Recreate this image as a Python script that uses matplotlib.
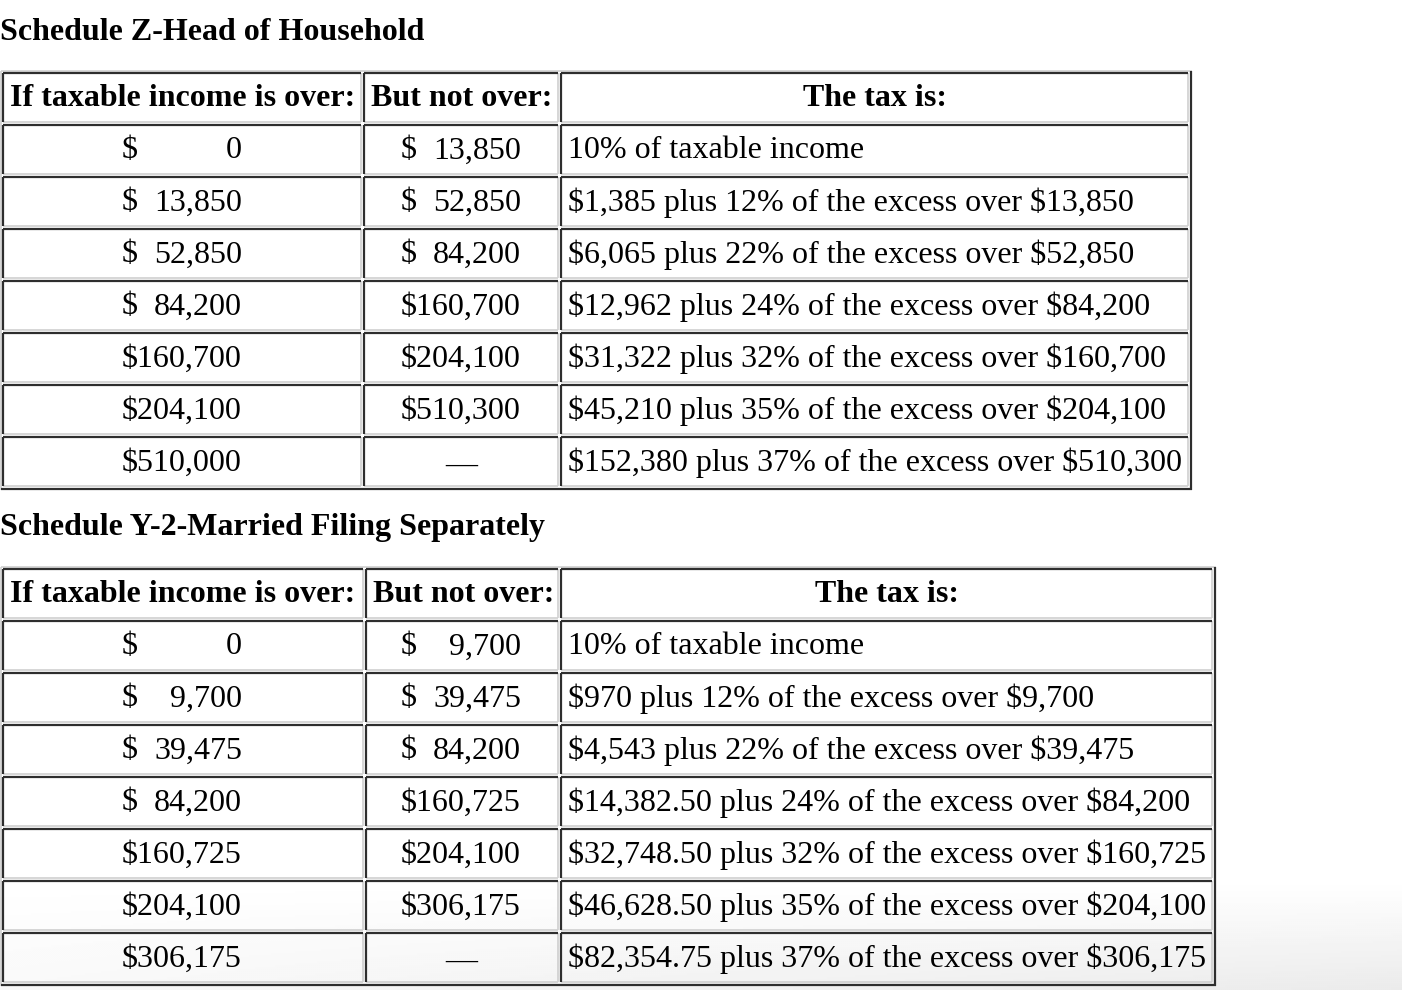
import matplotlib
matplotlib.use("Agg")
import numpy as np
import matplotlib.pyplot as plt
from matplotlib.lines import Line2D

plt.rcParams["text.parse_math"] = False

# Schedule Z - Head of Household
z_over = ["0", "13,850", "52,850", "84,200", "160,700", "204,100", "510,000"]
z_not_over = ["13,850", "52,850", "84,200", "160,700", "204,100", "510,300", None]
z_tax = ["10% of taxable income",
         "$1,385 plus 12% of the excess over $13,850",
         "$6,065 plus 22% of the excess over $52,850",
         "$12,962 plus 24% of the excess over $84,200",
         "$31,322 plus 32% of the excess over $160,700",
         "$45,210 plus 35% of the excess over $204,100",
         "$152,380 plus 37% of the excess over $510,300"]

# Schedule Y-2 - Married Filing Separately
y_over = ["0", "9,700", "39,475", "84,200", "160,725", "204,100", "306,175"]
y_not_over = ["9,700", "39,475", "84,200", "160,725", "204,100", "306,175", None]
y_tax = ["10% of taxable income",
         "$970 plus 12% of the excess over $9,700",
         "$4,543 plus 22% of the excess over $39,475",
         "$14,382.50 plus 24% of the excess over $84,200",
         "$32,748.50 plus 32% of the excess over $160,725",
         "$46,628.50 plus 35% of the excess over $204,100",
         "$82,354.75 plus 37% of the excess over $306,175"]

headers = ["If taxable income is over:", "But not over:", "The tax is:"]

W, H = 1402, 990
fig = plt.figure(figsize=(W / 100, H / 100), dpi=100)
ax = fig.add_axes([0, 0, 1, 1])
ax.set_xlim(0, W)
ax.set_ylim(H, 0)
ax.axis("off")

# faint screenshot shading along the bottom edge
yy, xx = np.mgrid[0:H:2, 0:W:2]
shade = np.clip((yy - 880) / 110.0, 0, 1) * (0.3 + 0.7 * xx / W) * 0.08
ax.imshow(1 - shade, cmap="gray", vmin=0, vmax=1, extent=[0, W, H, 0],
          aspect="auto", zorder=0, interpolation="bilinear")

FONT = "Liberation Serif"
FS = 23
DARK = "#2e2e2e"
LIGHT = "#cfcfcf"
LW_D = 1.6
LW_L = 1.2


def hline(x0, x1, y, c, lw):
    ax.add_line(Line2D([x0, x1], [y, y], color=c, lw=lw, solid_capstyle="butt", zorder=2))


def vline(x, y0, y1, c, lw):
    ax.add_line(Line2D([x, x], [y0, y1], color=c, lw=lw, solid_capstyle="butt", zorder=2))


def txt(x, y, s, ha="left", bold=False):
    ax.text(x, y, s, fontsize=FS, family=FONT, ha=ha, va="center",
            fontweight="bold" if bold else "normal", zorder=3)


def money(xl, xr, yc, val):
    if len(val) >= 7:
        txt((xl + xr) / 2, yc, "$" + val, ha="center")
    else:
        txt(xl, yc, "$")
        txt(xr, yc, val, ha="right")


def draw_table(title, title_y, top, cols, over, not_over, tax, row_h=52):
    txt(0, title_y, title, bold=True)
    n = len(over) + 1
    bottom = top + n * row_h
    # table outset border
    hline(cols[0] - 1, cols[-1] + 2, top - 1, LIGHT, LW_L)
    vline(cols[0] - 1, top - 1, bottom + 2, LIGHT, LW_L)
    hline(cols[0] - 1, cols[-1] + 2, bottom + 1, DARK, LW_D)
    vline(cols[-1] + 1, top - 1, bottom + 2, DARK, LW_D)
    # cells inset border
    for r in range(n):
        y0 = top + r * row_h + 1
        y1 = top + (r + 1) * row_h - 2
        for c in range(3):
            x0 = cols[c] + 1
            x1 = cols[c + 1] - 2
            hline(x0, x1, y1, LIGHT, LW_L)
            vline(x1, y0, y1, LIGHT, LW_L)
            hline(x0, x1, y0, DARK, LW_D)
            vline(x0, y0, y1, DARK, LW_D)
    # header
    yc = top + row_h / 2 + 1
    txt(cols[0] + 8, yc, headers[0], bold=True)
    txt(cols[1] + 8, yc, headers[1], bold=True)
    txt((cols[2] + cols[3]) / 2, yc, headers[2], ha="center", bold=True)
    for i in range(len(over)):
        yc = top + (i + 1) * row_h + row_h / 2 + 1
        money(122, 242, yc, over[i])
        if not_over[i] is None:
            txt(461, yc + 2, "\u2014", ha="center")
        else:
            money(401, 521, yc, not_over[i])
        txt(cols[2] + 8, yc, tax[i])


draw_table("Schedule Z-Head of Household", 32, 72, [2, 363, 560, 1190],
           z_over, z_not_over, z_tax)
draw_table("Schedule Y-2-Married Filing Separately", 528, 568, [2, 365, 560, 1214],
           y_over, y_not_over, y_tax)

fig.savefig("out.png", dpi=100)
